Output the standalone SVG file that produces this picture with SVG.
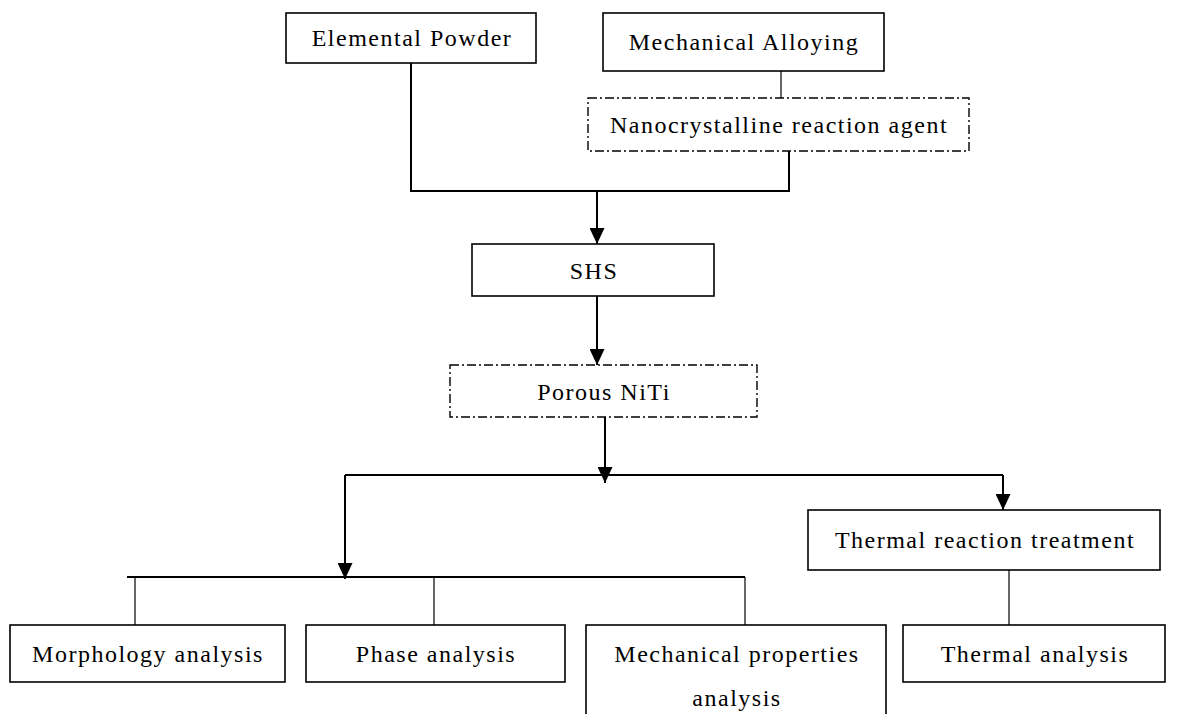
<svg xmlns="http://www.w3.org/2000/svg" width="1180" height="714" viewBox="0 0 1180 714">
<style>
.box{fill:#fff;stroke:#000;stroke-width:1.6}
.dash{fill:#fff;stroke:#000;stroke-width:1.4;stroke-dasharray:9 3 2 3}
.ln{fill:none;stroke:#000;stroke-width:2}
.thin{fill:none;stroke:#000;stroke-width:1.2}
text{font-family:"Liberation Serif","Times New Roman",serif;font-size:24px;letter-spacing:1.5px;fill:#000;text-anchor:middle}
</style>
<defs>
<marker id="a" markerUnits="userSpaceOnUse" markerWidth="16" markerHeight="15" refX="16" refY="7.5" orient="auto" viewBox="0 0 16 15">
<path d="M0,0 L16,7.5 L0,15 Z" fill="#000"/>
</marker>
</defs>
<rect width="1180" height="714" fill="#fff"/>
<g id="connectors">
<line class="thin" x1="781" y1="71" x2="781" y2="98"/>
<polyline class="ln" points="411,63 411,191 789,191 789,151"/>
<line class="ln" x1="597" y1="191" x2="597" y2="244" marker-end="url(#a)"/>
<line class="ln" x1="597" y1="296" x2="597" y2="365" marker-end="url(#a)"/>
<line class="ln" x1="605" y1="417" x2="605" y2="483" marker-end="url(#a)"/>
<line class="ln" x1="345" y1="475" x2="1003" y2="475"/>
<line class="ln" x1="345" y1="475" x2="345" y2="579" marker-end="url(#a)"/>
<line class="ln" x1="1003" y1="475" x2="1003" y2="510" marker-end="url(#a)"/>
<line class="thin" x1="1009" y1="570" x2="1009" y2="625"/>
<line class="ln" x1="127" y1="577" x2="745" y2="577"/>
<line class="thin" x1="135" y1="577" x2="135" y2="625"/>
<line class="thin" x1="434" y1="577" x2="434" y2="625"/>
<line class="thin" x1="745" y1="577" x2="745" y2="625"/>
</g>
<g id="elemental"><rect class="box" x="286" y="13" width="250" height="50"/><text x="412" y="46">Elemental Powder</text></g>
<g id="mechanical-alloying"><rect class="box" x="603" y="13" width="281" height="58"/><text x="744" y="50">Mechanical Alloying</text></g>
<g id="nano"><rect class="dash" x="588" y="98" width="381" height="53"/><text x="779" y="133">Nanocrystalline reaction agent</text></g>
<g id="shs"><rect class="box" x="472" y="244" width="242" height="52"/><text x="594" y="279">SHS</text></g>
<g id="porous"><rect class="dash" x="450" y="365" width="307" height="52"/><text x="604" y="400">Porous NiTi</text></g>
<g id="thermal-reaction"><rect class="box" x="808" y="510" width="352" height="60"/><text x="985" y="548">Thermal reaction treatment</text></g>
<g id="morphology"><rect class="box" x="10" y="625" width="275" height="57"/><text x="148" y="662">Morphology analysis</text></g>
<g id="phase"><rect class="box" x="306" y="625" width="259" height="57"/><text x="436" y="662">Phase analysis</text></g>
<g id="mech-props"><rect class="box" x="586" y="625" width="300" height="100"/><text x="737" y="662">Mechanical properties</text><text x="737" y="706">analysis</text></g>
<g id="thermal-analysis"><rect class="box" x="903" y="625" width="262" height="57"/><text x="1035" y="662">Thermal analysis</text></g>
</svg>
